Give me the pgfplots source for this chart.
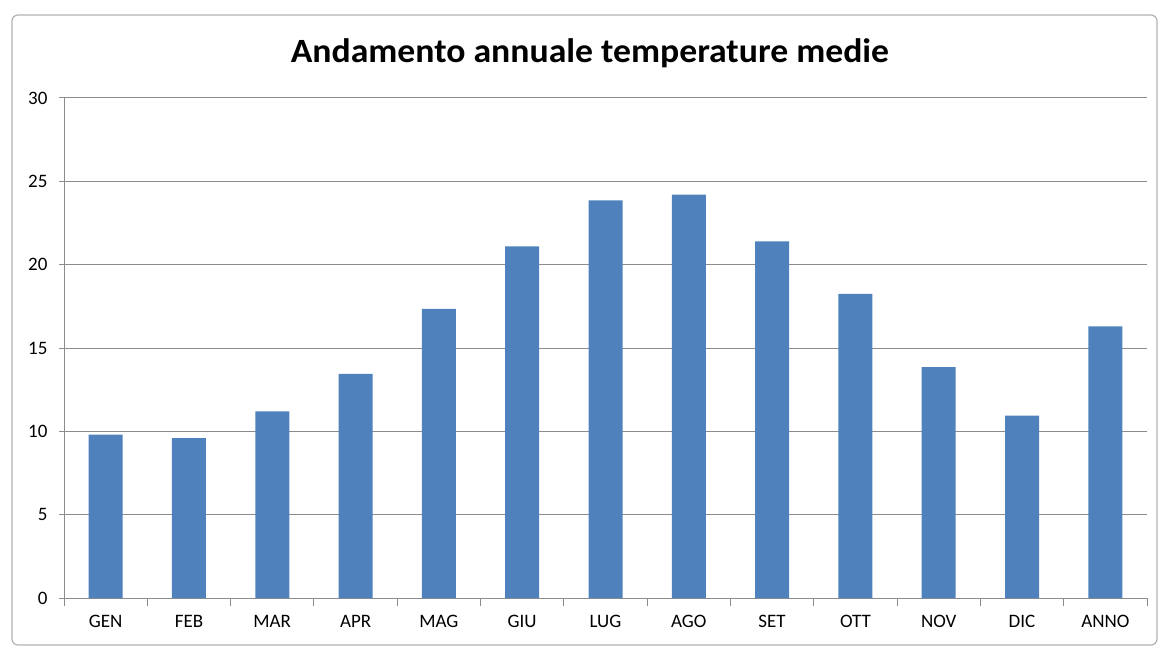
\documentclass[border=0pt]{standalone}
\usepackage{pgfplots}
\pgfplotsset{compat=1.18}
\usepackage{fontspec}
\setmainfont{Carlito}
\definecolor{barblue}{HTML}{4F81BD}
\definecolor{gridgray}{HTML}{8C8C8C}
\begin{document}
\begin{tikzpicture}[x=1pt,y=1pt]
\useasboundingbox (0,0) rectangle (1161,648);
\draw[gray!60, line width=1.2pt, rounded corners=6pt] (12,3) rectangle (1157,633);
\node[font=\fontsize{34}{40}\selectfont\bfseries, anchor=base, xscale=1.05] at (590,585) {Andamento annuale temperature medie};
\begin{axis}[
  at={(64pt,50pt)},
  scale only axis, width=1083pt, height=500pt,
  anchor=south west,
  xmin=-0.5, xmax=12.5, ymin=0, ymax=30,
  axis lines*=left,
  axis line style={gridgray, line width=1pt},
  xtick={0,...,12},
  xticklabels={GEN,FEB,MAR,APR,MAG,GIU,LUG,AGO,SET,OTT,NOV,DIC,ANNO},
  minor xtick={-0.5,0.5,...,12.5},
  x tick style={draw=none},
  minor x tick style={draw=gridgray, line width=1pt},
  minor tick length=8pt,
  xtick align=outside,
  ytick={0,5,...,30},
  y tick style={gridgray, line width=1pt},
  major tick length=5pt,
  ytick align=outside,
  ymajorgrids,
  grid style={gridgray, line width=1pt},
  tick label style={font=\fontsize{19}{22}\selectfont},
  /pgf/number format/assume math mode=true,
  xticklabel style={yshift=-9pt},
  yticklabel style={xshift=-8pt},
  ybar, bar width=34pt,
]
\addplot[fill=barblue, draw=none] coordinates {
(0,9.8) (1,9.6) (2,11.2) (3,13.45) (4,17.35) (5,21.1) (6,23.85)
(7,24.2) (8,21.4) (9,18.25) (10,13.85) (11,10.95) (12,16.3)};
\end{axis}
\end{tikzpicture}
\end{document}
